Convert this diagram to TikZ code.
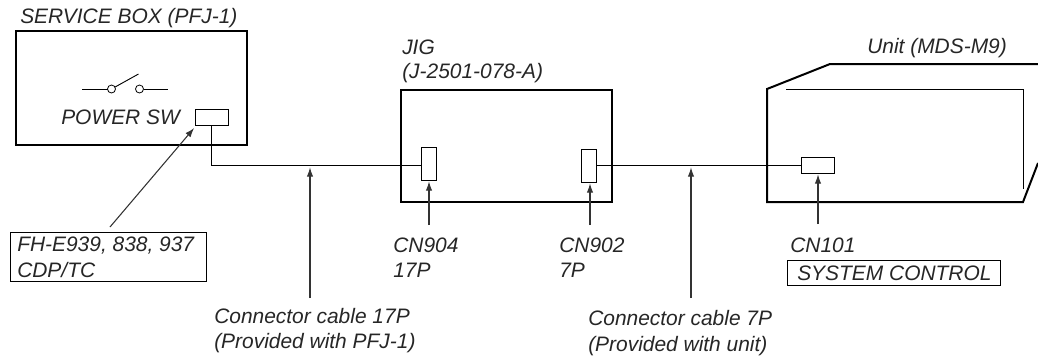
\documentclass[tikz,border=0pt]{standalone}
\usepackage{fontspec}
\setmainfont{Liberation Sans}
\usetikzlibrary{arrows.meta}
\tikzset{
  label/.style={anchor=base west,inner sep=0pt,font=\itshape\fontsize{15.7}{18}\selectfont,text=black!85},
  heavybox/.style={draw,line width=1.5pt,inner sep=0pt,outer sep=0pt},
  conbox/.style={draw,line width=0.7pt,inner sep=0pt,outer sep=0pt},
  wire/.style={line width=0.7pt},
  pointer/.style={line width=0.8pt,black!80,-{Latex[length=7pt,width=4.8pt]},shorten >=1pt},
  pin/.style={circle,draw,line width=0.6pt,inner sep=0pt,minimum size=6pt,outer sep=0pt}
}
\begin{document}
\begin{tikzpicture}[x=0.75pt,y=-0.75pt]
        \useasboundingbox (0,0) rectangle (1038,358);
        % service box
        \node[heavybox,minimum width=173.25pt,minimum height=85.5pt] (svcbox) at (131.5,88) {};
        \node[label] (svctitle) at (20,23) {SERVICE BOX (PFJ-1)};
        \node[pin] (pina) at (111.5,89) {};
        \node[pin] (pinb) at (139.5,89) {};
        \coordinate (leada) at (82,89);
        \coordinate (leadb) at (168,89);
        \coordinate (blade) at (138.5,74);
        \draw[wire] (leada) -- (pina);
        \draw[wire] (pinb) -- (leadb);
        \draw[wire] (pina) -- (blade);
        \node[label] (swlabel) at (61,124) {POWER SW};
        \node[conbox,minimum width=24.75pt,minimum height=12pt] (cnsvc) at (211.5,117) {};
        % jig
        \node[label] (jiga) at (402,54) {JIG};
        \node[label] (jigb) at (402,78) {(J-2501-078-A)};
        \node[heavybox,minimum width=158.25pt,minimum height=84pt] (jigbox) at (506.5,146) {};
        \node[conbox,minimum width=11.25pt,minimum height=24.75pt] (cnf) at (428.5,163.5) {};
        \node[conbox,minimum width=11.25pt,minimum height=24.75pt] (cns) at (588.5,165.5) {};
        % unit
        \node[label] (unitlabel) at (867,53) {Unit (MDS-M9)};
        \draw[line width=1.5pt] (1038,64) -- (830,64) -- (767,89) -- (767,202) -- (1023,202) -- (1038,163);
        \draw[wire] (786,89) -- (1023,89) -- (1023,189);
        \node[conbox,minimum width=24.75pt,minimum height=12pt] (cnunit) at (817.5,165) {};
        % cables
        \draw[wire] (cnsvc.south) |- (cnf.west |- 0,165) -- (cnf.west);
        \draw[wire] (cns.east |- 0,165) -- (cnunit.west);
        % lower labels
        \node[conbox,minimum width=147pt,minimum height=36.75pt] (fhbox) at (108,256.5) {};
        \node[label] (fha) at (17,251) {FH-E939, 838, 937};
        \node[label] (fhb) at (17,277) {CDP/TC};
        \node[label] (cnfa) at (393,252) {CN904};
        \node[label] (cnfb) at (393,277) {17P};
        \node[label] (cnsa) at (559,252) {CN902};
        \node[label] (cnsb) at (559,277) {7P};
        \node[label] (cnua) at (790,252) {CN101};
        \node[conbox,minimum width=159.75pt,minimum height=18.75pt] (sysbox) at (893.5,272.5) {};
        \node[label] (sysctl) at (797,280) {SYSTEM CONTROL};
        \node[label] (cablefa) at (214,323) {Connector cable 17P};
        \node[label] (cablefb) at (214,348) {(Provided with PFJ-1)};
        \node[label] (cablesa) at (588,325) {Connector cable 7P};
        \node[label] (cablesb) at (588,351) {(Provided with unit)};
        % pointers
        \coordinate (ptfh) at (110,227);
        \coordinate (ptfhend) at (195,127);
        \coordinate (ptcablef) at (310,298);
        \coordinate (ptcablefend) at (310,166);
        \coordinate (ptcables) at (691,298);
        \coordinate (ptcablesend) at (691,166);
        \coordinate (ptcnf) at (429,225);
        \coordinate (ptcns) at (590,225);
        \coordinate (ptcnu) at (818,224);
        \draw[pointer] (ptfh) -- (ptfhend);
        \draw[pointer] (ptcablef) -- (ptcablefend);
        \draw[pointer] (ptcables) -- (ptcablesend);
        \draw[pointer] (ptcnf) -- (ptcnf |- cnf.south);
        \draw[pointer] (ptcns) -- (ptcns |- cns.south);
        \draw[pointer] (ptcnu) -- (ptcnu |- cnunit.south);
\end{tikzpicture}
\end{document}
